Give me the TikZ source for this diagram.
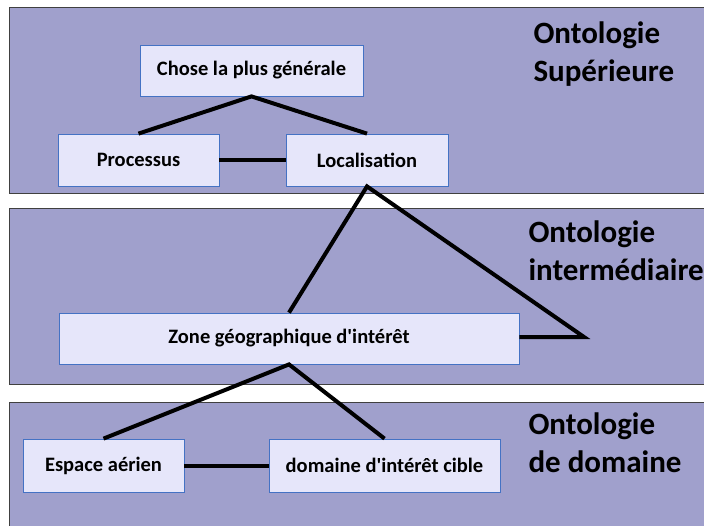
\documentclass[tikz,border=0pt]{standalone}
\usepackage{fontspec}
\setmainfont{Carlito}
\usepackage{xcolor}
\usepackage{tikz}

\definecolor{bandfill}{RGB}{160,160,204}
\definecolor{boxfill}{RGB}{230,230,250}
\definecolor{boxline}{RGB}{68,114,196}
\definecolor{bandline}{RGB}{64,64,64}

\tikzset{
    band/.style={fill=bandfill, draw=bandline, line width=1pt},
    concept/.style={rectangle, fill=boxfill, draw=boxline, line width=0.8pt,
        font=\fontsize{20.5}{24}\selectfont\bfseries, inner sep=0pt},
    level/.style={anchor=west, align=left, font=\fontsize{31}{38}\selectfont\bfseries},
    link/.style={line width=4pt, black}
}

\begin{document}
\begin{tikzpicture}[x=1pt, y=-1pt]
        \clip (0,0) rectangle (704,525);
        \fill[white] (0,0) rectangle (704,525);
        % Three ontology levels
        \draw[band] (9,7) rectangle (720,193);
        \draw[band] (9,208) rectangle (720,384);
        \draw[band] (9,402) rectangle (720,540);
        \node[level] (sup) at (530,54) {Ontologie\\Supérieure};
        \node[level] (inter) at (525,251) {Ontologie\\intermédiaire};
        \node[level] (dom) at (525,443) {Ontologie\\de domaine};

        % Concepts
        \node[concept, minimum width=223pt, minimum height=51pt] (chose) at (251.5,70.5) {Chose la plus générale};
        \node[concept, minimum width=161pt, minimum height=52pt] (proc) at (138.5,160) {Processus};
        \node[concept, minimum width=162pt, minimum height=52pt] (loc) at (367,160) {Localisation};
        \node[concept, minimum width=460pt, minimum height=51pt] (zone) at (289,338.5) {Zone géographique d\textquotesingle intérêt};
        \node[concept, minimum width=161pt, minimum height=53pt] (espace) at (103.5,465.5) {Espace aérien};
        \node[concept, minimum width=231pt, minimum height=53pt] (cible) at (384.5,465.5) {domaine d\textquotesingle intérêt cible};
        \coordinate (coin) at (584,337);

        % Links
        \draw[link] (proc.north) -- (chose.south) -- (loc.north);
        \draw[link] (proc) -- (loc);
        \draw[link] (zone.north) -- (loc.south) -- (coin) -- (zone.east |- coin);
        \draw[link] (espace.north) -- (zone.south) -- (cible.north);
        \draw[link] (espace) -- (cible);
    \end{tikzpicture}
\end{document}
